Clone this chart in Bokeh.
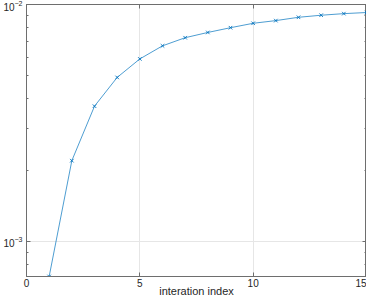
from bokeh.plotting import figure
from bokeh.models import Range1d, FixedTicker, LogTickFormatter, LinearAxis, LogAxis
from bokeh.embed import file_html
from bokeh.resources import INLINE

# data
iteration = [1, 2, 3, 4, 5, 6, 7, 8, 9, 10, 11, 12, 13, 14, 15]
values = [7.1e-4, 2.19e-3, 3.72e-3, 4.92e-3, 5.89e-3, 6.69e-3, 7.24e-3, 7.62e-3,
          7.98e-3, 8.33e-3, 8.55e-3, 8.83e-3, 9.01e-3, 9.15e-3, 9.25e-3]
x_ticks = [0, 5, 10, 15]
y_ticks = [1e-3, 1e-2]
y_minor = [8e-4, 9e-4, 2e-3, 3e-3, 4e-3, 5e-3, 6e-3, 7e-3, 8e-3, 9e-3]

FONT = "Liberation Sans"
AX = "#6e6e6e"
TXT = "#262626"
LINE = "#0072BD"

p = figure(width=366, height=299, y_axis_type="log",
           x_range=Range1d(0, 15), y_range=Range1d(7.1e-4, 1e-2),
           output_backend="svg", toolbar_location=None,
           min_border_left=10, min_border_right=0, min_border_top=4, min_border_bottom=0)
p.background_fill_color = "white"
p.border_fill_color = "white"
p.outline_line_color = AX
p.outline_line_width = 1

xt = FixedTicker(ticks=x_ticks)
yt = FixedTicker(ticks=y_ticks, minor_ticks=y_minor)

p.xaxis.ticker = xt
p.yaxis.ticker = yt
p.yaxis.formatter = LogTickFormatter()
for ax in (p.xaxis[0], p.yaxis[0]):
    ax.axis_line_color = AX
    ax.major_tick_line_color = AX
    ax.minor_tick_line_color = AX
    ax.major_tick_in = 4
    ax.major_tick_out = 0
    ax.minor_tick_in = 2
    ax.minor_tick_out = 0
    ax.major_label_text_font = FONT
    ax.major_label_text_font_size = "10px"
    ax.major_label_text_color = TXT
p.xaxis.major_label_standoff = 2
p.yaxis.major_label_standoff = 4
p.xaxis.minor_tick_line_color = None
p.xaxis.axis_label = "interation index"
p.xaxis.axis_label_text_font = FONT
p.xaxis.axis_label_text_font_size = "11px"
p.xaxis.axis_label_text_font_style = "normal"
p.xaxis.axis_label_text_color = TXT
p.xaxis.axis_label_standoff = -5
p.xaxis.axis_label_text_baseline = "middle"

# mirrored box axes (tick marks only)
top = LinearAxis(ticker=FixedTicker(ticks=x_ticks))
right = LogAxis(ticker=FixedTicker(ticks=y_ticks, minor_ticks=y_minor))
for ax in (top, right):
    ax.axis_line_color = AX
    ax.major_tick_line_color = AX
    ax.minor_tick_line_color = AX
    ax.major_tick_in = 4
    ax.major_tick_out = 0
    ax.minor_tick_in = 2
    ax.minor_tick_out = 0
    ax.major_label_text_font_size = "1px"
    ax.major_label_text_alpha = 0
    ax.major_label_standoff = 0
top.minor_tick_line_color = None
p.add_layout(top, "above")
p.add_layout(right, "right")

p.xgrid.ticker = xt
p.ygrid.ticker = yt
p.xgrid.grid_line_color = "#e6e6e6"
p.ygrid.grid_line_color = "#e6e6e6"
p.ygrid.minor_grid_line_color = None

p.line(iteration, values, line_color=LINE, line_width=0.7)
p.scatter(iteration, values, marker="x", size=5, line_color=LINE, line_width=0.9)

open("out.html", "w").write(file_html(p, INLINE))
